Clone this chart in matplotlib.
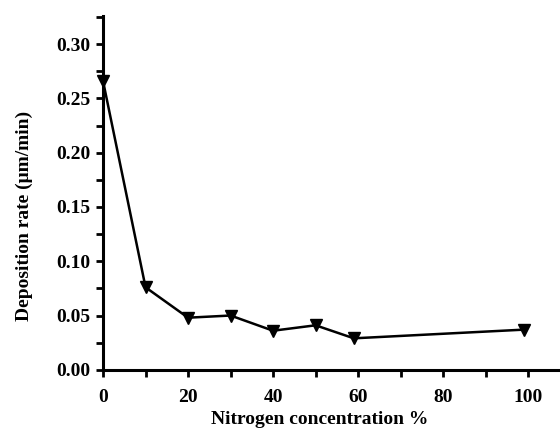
import matplotlib
matplotlib.use("Agg")
import matplotlib.pyplot as plt
from matplotlib.ticker import MultipleLocator

nitrogen = [0, 10, 20, 30, 40, 50, 59, 99]
rate = [0.266, 0.076, 0.048, 0.050, 0.036, 0.041, 0.029, 0.037]

plt.rcParams['font.family'] = ['Liberation Serif', 'DejaVu Serif']
plt.rcParams['font.weight'] = 'bold'

fig = plt.figure(figsize=(5.6, 4.3), dpi=100)
ax = fig.add_axes([0.184, 0.14, 0.816, 0.823])

ax.plot(nitrogen, rate, color='black', linewidth=1.8, marker='v',
        markersize=8, clip_on=False)

ax.set_xlim(0, 107.5)
ax.set_ylim(0, 0.326)
ax.xaxis.set_major_locator(MultipleLocator(20))
ax.xaxis.set_minor_locator(MultipleLocator(10))
ax.yaxis.set_major_locator(MultipleLocator(0.05))
ax.yaxis.set_minor_locator(MultipleLocator(0.025))
ax.yaxis.set_major_formatter(plt.FormatStrFormatter('%.2f'))

for side in ['top', 'right']:
    ax.spines[side].set_visible(False)
for side in ['left', 'bottom']:
    ax.spines[side].set_linewidth(2.2)

ax.tick_params(which='major', direction='out', length=5, width=2, labelsize=14)
ax.tick_params(which='minor', direction='out', length=5, width=2)
ax.tick_params(axis='y', pad=4)
ax.tick_params(axis='x', pad=9)

ax.set_xlabel('Nitrogen concentration %', fontsize=14, fontweight='bold')
ax.set_ylabel('Deposition rate (μm/min)', fontsize=14, fontweight='bold')
ax.xaxis.set_label_coords(0.475, -0.117)
ax.yaxis.set_label_coords(-0.153, 0.435)

fig.savefig('out.png', dpi=100)
